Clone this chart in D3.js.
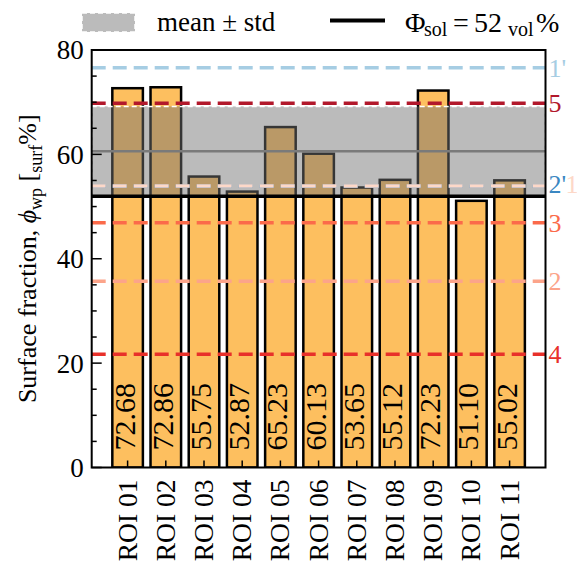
<!DOCTYPE html>
<html><head><meta charset="utf-8">
<script src="https://cdn.jsdelivr.net/npm/d3@7"></script>
<style>
body{margin:0;background:#fff}
svg text{font-family:"Liberation Serif","Times New Roman",serif;}
</style>
</head><body>
<svg id="c" width="577" height="563" font-family="Liberation Serif"></svg>
<script>
const categories = ["ROI 01","ROI 02","ROI 03","ROI 04","ROI 05","ROI 06","ROI 07","ROI 08","ROI 09","ROI 10","ROI 11"];
const values = [72.68,72.86,55.75,52.87,65.23,60.13,53.65,55.12,72.23,51.10,55.02];
const refLabels = ["1'","5","2'","1","3","2","4"];
const refValues = [76.6,69.8,53.9,53.95,46.9,35.7,21.7];
const refColors = ["#a6cde3","#b2182b","#3a87c2","#fdd8c8","#fb6a4a","#fca48a","#e8302a"];
const solValue = 52;
const yTicks = [0,20,40,60,80];

const FF = "Liberation Serif";
const svg = d3.select("#c");
const L = 91.7, R = 545.5, T = 50, B = 467.5;
const x = d3.scaleLinear().domain([-0.94, categories.length - 1 + 0.94]).range([L, R]);
const y = d3.scaleLinear().domain([0, 80]).range([B, T]);
const step = x(1) - x(0);
const bw = 0.8 * step;

const mean = d3.mean(values), std = d3.deviation(values);

const g = svg.append("g");
svg.append("clipPath").attr("id","pc").append("rect")
  .attr("x", L).attr("y", T).attr("width", R-L).attr("height", B-T);
const pg = g.append("g").attr("clip-path","url(#pc)");

// bars
pg.selectAll("rect.bar").data(values).join("rect").attr("class","bar")
  .attr("x", (d,i) => x(i) - bw/2).attr("width", bw)
  .attr("y", d => y(d)).attr("height", d => y(0) - y(d))
  .attr("fill", "#fdbf5f").attr("stroke", "#000").attr("stroke-width", 2.5);

// bottom ticks (inward)
g.selectAll("line.xt").data(values).join("line").attr("class","xt")
  .attr("x1",(d,i)=>x(i)).attr("x2",(d,i)=>x(i)).attr("y1",B).attr("y2",B-7)
  .attr("stroke","#000").attr("stroke-width",1.5);

// band (mean ± std)
pg.append("rect").attr("x", L).attr("width", R-L)
  .attr("y", y(mean+std)).attr("height", y(mean-std) - y(mean+std))
  .attr("fill", "#707070").attr("fill-opacity", 0.48)
  .attr("stroke", "#fff").attr("stroke-width", 1.5).attr("stroke-dasharray", "5 3");
pg.append("line").attr("x1",L).attr("x2",R).attr("y1",y(mean)).attr("y2",y(mean))
  .attr("stroke","#7a7a7a").attr("stroke-width",2.5);

// reference dashed lines
refValues.forEach((v,i) => {
  pg.append("line").attr("x1",L).attr("x2",R).attr("y1",y(v)).attr("y2",y(v))
    .attr("stroke",refColors[i]).attr("stroke-width",3.5).attr("stroke-dasharray","14 7");
});
// solid line
pg.append("line").attr("x1",L).attr("x2",R).attr("y1",y(solValue)).attr("y2",y(solValue))
  .attr("stroke","#000").attr("stroke-width",3.5);

// bar value labels
g.selectAll("text.bv").data(values).join("text").attr("class","bv")
  .attr("transform",(d,i)=>`translate(${x(i)+7},${y(0)-17}) rotate(-90)`)
  .attr("font-family",FF).attr("font-size",30).attr("fill","#000")
  .text(d => d.toFixed(2));

// spines
g.append("rect").attr("x",L).attr("y",T).attr("width",R-L).attr("height",B-T)
  .attr("fill","none").attr("stroke","#000").attr("stroke-width",2);

// y ticks
d3.range(0,81,5).forEach(v => {
  const major = v % 20 === 0;
  g.append("line").attr("x1",L).attr("x2",L+(major?10:5)).attr("y1",y(v)).attr("y2",y(v))
    .attr("stroke","#000").attr("stroke-width",1.5);
});
g.selectAll("text.yt").data(yTicks).join("text").attr("class","yt")
  .attr("x", L-8).attr("y", d => y(d)).attr("dy","0.35em")
  .attr("font-family",FF).attr("text-anchor","end").attr("font-size",27).text(d => d);

// x labels
g.selectAll("text.xl").data(categories).join("text").attr("class","xl")
  .attr("transform",(d,i)=>`translate(${x(i)+9},${B+12}) rotate(-90)`)
  .attr("font-family",FF).attr("text-anchor","end").attr("font-size",27.5).text(d => d);

// right labels
refLabels.forEach((lab,i) => {
  const xx = lab === "1" ? R + 20 : R + 3;
  const yy = (lab === "2'" || lab === "1") ? y(refValues[2]) - 2 : y(refValues[i]);
  g.append("text").attr("x", xx).attr("y", yy).attr("dy","0.35em")
    .attr("font-family",FF).attr("font-size",26).attr("fill",refColors[i]).text(lab);
});

// y label
const yl = g.append("text").attr("transform",`translate(36,${(T+B)/2}) rotate(-90)`)
  .attr("font-family",FF).attr("text-anchor","middle").attr("font-size",26);
yl.append("tspan").text("Surface fraction, ");
yl.append("tspan").attr("font-style","italic").text("\u03D5");
yl.append("tspan").attr("font-size",18).attr("dy",6).text("wp");
yl.append("tspan").attr("dy",-6).text(" [");
yl.append("tspan").attr("font-size",18).attr("dy",6).text("surf");
yl.append("tspan").attr("dy",-6).text("%]");

// legend
g.append("rect").attr("x",82).attr("y",13).attr("width",53).attr("height",19)
  .attr("fill","#bbbbbb").attr("stroke","#fff").attr("stroke-width",1.5).attr("stroke-dasharray","5 3");
g.append("text").attr("x",157).attr("y",31).attr("font-family",FF).attr("font-size",27).text("mean \u00B1 std");
g.append("line").attr("x1",330).attr("x2",385).attr("y1",20.5).attr("y2",20.5)
  .attr("stroke","#000").attr("stroke-width",4);
const lt = g.append("text").attr("y",31.5).attr("font-family",FF).attr("font-size",28);
lt.append("tspan").attr("x",405).text("\u03A6");
lt.append("tspan").attr("x",424).attr("font-size",20).attr("dy",4).text("sol");
lt.append("tspan").attr("x",453).attr("dy",-4).text("=");
lt.append("tspan").attr("x",474).text("52");
lt.append("tspan").attr("x",508).attr("font-size",20).attr("dy",4).text("vol");
lt.append("tspan").attr("x",536).attr("dy",-4).text("%");
</script>
</body></html>
